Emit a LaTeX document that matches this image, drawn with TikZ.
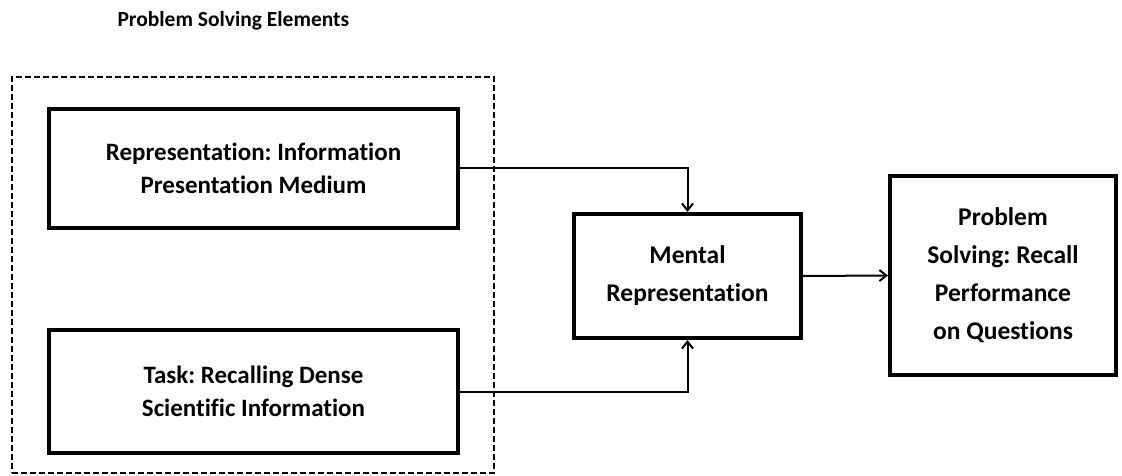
\documentclass[tikz,border=0pt]{standalone}
\usepackage{fontspec}
\setmainfont[Ligatures={NoCommon}]{Carlito}
\usetikzlibrary{arrows.meta}
\tikzset{
  box/.style={draw, line width=4pt, inner sep=0pt, align=center,
    font=\fontsize{25}{33}\selectfont\bfseries},
  tallbox/.style={box, font=\fontsize{25.5}{38}\selectfont\bfseries},
  conn/.style={line width=2pt, -{Straight Barb[length=7pt,width=11pt,line width=2pt]}},
  group/.style={draw, dashed, line width=1.5pt, dash pattern=on 6pt off 3pt},
}
\begin{document}
\frenchspacing
\begin{tikzpicture}[x=1pt,y=-1pt]
\useasboundingbox (0,0) rectangle (1122,476);
\node[anchor=base west, font=\fontsize{21.5}{26}\selectfont\bfseries] (title) at (114,27) {Problem Solving Elements};
\node[group, minimum width=482pt, minimum height=396pt, inner sep=0pt] (grp) at (253,275) {};
\node[box, minimum width=409pt, minimum height=119pt] (rep) at (253.5,168.5) {Representation: Information\\Presentation Medium};
\node[box, minimum width=409pt, minimum height=123pt] (task) at (253.5,391.5) {Task: Recalling Dense\\Scientific Information};
\node[tallbox, minimum width=227pt, minimum height=124pt] (mental) at (687.5,276) {Mental\\Representation};
\node[tallbox, minimum width=226pt, minimum height=199pt] (prob) at (1003,275.5) {Problem\\Solving: Recall\\Performance\\on Questions};
\draw[conn] (rep.east) -| (mental.north);
\draw[conn] (task.east) -| (mental.south);
\draw[conn] (mental.east) -- (prob.west);
\end{tikzpicture}
\end{document}
